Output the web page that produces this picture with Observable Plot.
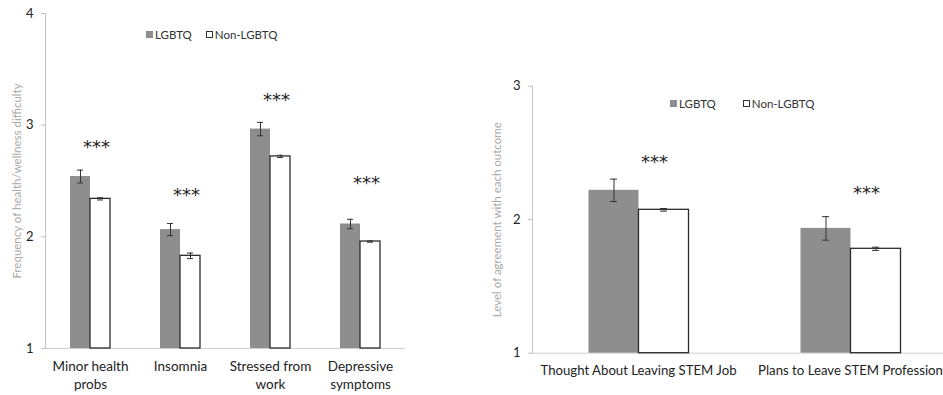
<!DOCTYPE html>
<html><head><meta charset="utf-8">
<script src="https://cdn.jsdelivr.net/npm/d3@7"></script>
<script src="https://cdn.jsdelivr.net/npm/@observablehq/plot@0.6"></script>
<style>
html,body{margin:0;padding:0;background:#fff;overflow:hidden;}
#wrap{position:relative;width:943px;height:395px;overflow:hidden;font-family:Lato,"Open Sans",sans-serif;background:#fff;}
.chart{position:absolute;top:0;}
.legend{position:absolute;font-size:11.5px;color:#333;white-space:nowrap;display:flex;align-items:center;height:14px;}
.sw{display:inline-block;width:7px;height:7px;margin-right:2px;box-sizing:border-box;}
.sw.g{background:#8e8e8e;}
.sw.w{background:#fff;border:1px solid #333;}
.gap{display:inline-block;}
</style>
</head><body><div id="wrap"></div>
<script>
// ---- Left chart data ----
const groups = ["LGBTQ", "Non-LGBTQ"];
const leftCategories = ["Minor health probs", "Insomnia", "Stressed from work", "Depressive symptoms"];
const leftTickLabels = ["Minor health\nprobs", "Insomnia", "Stressed from\nwork", "Depressive\nsymptoms"];
const leftLGBTQ = [2.54, 2.065, 2.965, 2.115];
const leftLGBTQErr = [0.057, 0.054, 0.06, 0.042];
const leftNon = [2.34, 1.83, 2.72, 1.958];
const leftNonErr = [0.01, 0.025, 0.01, 0.006];
const leftStars = [2.835, 2.41, 3.255, 2.515];
const leftYTicks = [1, 2, 3, 4];
const leftYLabel = "Frequency of health/wellness difficulty";

// ---- Right chart data ----
const rightCategories = ["Thought About Leaving STEM Job", "Plans to Leave STEM Profession"];
const rightTickLabels = ["Thought About Leaving STEM Job", "Plans to Leave STEM Profession"];
const rightLGBTQ = [2.22, 1.935];
const rightLGBTQErr = [0.084, 0.088];
const rightNon = [2.074, 1.782];
const rightNonErr = [0.01, 0.012];
const rightStars = [2.46, 2.225];
const rightYTicks = [1, 2, 3];
const rightYLabel = "Level of agreement with each outcome";

function rowsOf(cats, lg, lgErr, non, nonErr) {
  const rows = [];
  cats.forEach((c, i) => {
    rows.push({cat: c, group: groups[0], value: lg[i], err: lgErr[i]});
    rows.push({cat: c, group: groups[1], value: non[i], err: nonErr[i]});
  });
  return rows;
}

function makeChart(o) {
  const rows = rowsOf(o.cats, o.lg, o.lgErr, o.non, o.nonErr);
  const starRows = o.cats.map((c, i) => ({cat: c, y: o.stars[i]}));
  const base = o.ticks[0];
  const labelMap = new Map(o.cats.map((c, i) => [c, o.tickLabels[i]]));
  const svg = Plot.plot({
    width: o.width, height: 395,
    marginLeft: o.marginLeft, marginRight: o.marginRight,
    marginTop: o.marginTop, marginBottom: o.marginBottom,
    style: {fontFamily: "Lato, 'Open Sans', sans-serif", fontSize: "13px", color: "#333", background: "transparent", overflow: "visible"},
    fx: {domain: o.cats, padding: 0, label: null, axis: null},
    x: {domain: groups, paddingInner: 0, paddingOuter: o.padOuter, axis: null},
    y: {domain: [base, o.ticks[o.ticks.length - 1]], axis: null},
    marks: [
      Plot.ruleY([base], {stroke: "#cfcfcf", strokeWidth: 1}),
      Plot.frame({anchor: "left", facetAnchor: "left", stroke: "#c4c4c4"}),
      Plot.barY(rows.filter(d => d.group === groups[0]), {fx: "cat", x: "group", y1: () => base, y2: "value", fill: "#8e8e8e"}),
      Plot.barY(rows.filter(d => d.group === groups[1]), {fx: "cat", x: "group", y1: () => base, y2: "value", fill: "#fff", stroke: "#2b2b2b", strokeWidth: 1.3}),
      Plot.ruleX(rows, {fx: "cat", x: "group", y1: d => d.value - d.err, y2: d => d.value + d.err, stroke: "#333", strokeWidth: 1}),
      Plot.tickY(rows, {fx: "cat", x: "group", y: d => d.value + d.err, stroke: "#333", insetLeft: o.capInset, insetRight: o.capInset}),
      Plot.tickY(rows, {fx: "cat", x: "group", y: d => d.value - d.err, stroke: "#333", insetLeft: o.capInset, insetRight: o.capInset}),
      Plot.text(starRows, {fx: "cat", y: "y", text: () => "***", fontSize: 18, fontFamily: "DejaVu Sans", dx: o.starDx, dy: 4, fill: "#222"}),
      Plot.axisY({ticks: o.ticks, tickSize: 4, tickPadding: 8, stroke: "#bdbdbd", fill: "#222", fontSize: 13, tickFormat: d => d,
        label: o.yLabel, labelAnchor: "center", labelArrow: false, labelOffset: o.labelOffset}),
      Plot.axisFx({anchor: "bottom", tickSize: 0, tickPadding: o.fxPad, fontSize: o.fxFont, lineHeight: 1.3, fill: "#222",
        tickFormat: d => labelMap.get(d), label: null})
    ]
  });
  svg.querySelectorAll('g[aria-label="y-axis label"]').forEach(g => {
    g.setAttribute("fill", "#a9a9a9");
    g.setAttribute("font-size", "11.5");
    g.querySelectorAll("text").forEach(t => { t.setAttribute("fill", "#a9a9a9"); t.style.fontSize = "11.5px"; });
  });
  return svg;
}

const wrap = document.getElementById("wrap");

const left = makeChart({
  cats: leftCategories, tickLabels: leftTickLabels, lg: leftLGBTQ, lgErr: leftLGBTQErr,
  non: leftNon, nonErr: leftNonErr, stars: leftStars, ticks: leftYTicks, yLabel: leftYLabel,
  width: 470, marginLeft: 45, marginRight: 65, marginTop: 13, marginBottom: 47,
  padOuter: 1.143, capInset: 7, starDx: 6, labelOffset: 33, fxPad: 10, fxFont: 13.5
});
left.classList.add("chart");
left.style.left = "0px";
wrap.appendChild(left);

const right = makeChart({
  cats: rightCategories, tickLabels: rightTickLabels, lg: rightLGBTQ, lgErr: rightLGBTQErr,
  non: rightNon, nonErr: rightNonErr, stars: rightStars, ticks: rightYTicks, yLabel: rightYLabel,
  width: 486, marginLeft: 61.5, marginRight: 0, marginTop: 85.7, marginBottom: 42.3,
  padOuter: 1.09, capInset: 21.5, starDx: 16, labelOffset: 40, fxPad: 10, fxFont: 13.2
});
right.classList.add("chart");
right.style.left = "470px";
wrap.appendChild(right);

function legend(x, y, gap) {
  const d = document.createElement("div");
  d.className = "legend";
  d.style.left = x + "px";
  d.style.top = y + "px";
  d.innerHTML = `<span class="sw g"></span><span>${groups[0]}</span><span class="gap" style="width:${gap}px"></span><span class="sw w"></span><span>${groups[1]}</span>`;
  wrap.appendChild(d);
}
legend(146, 27, 14);
legend(670, 96, 27);
</script>
</body></html>
